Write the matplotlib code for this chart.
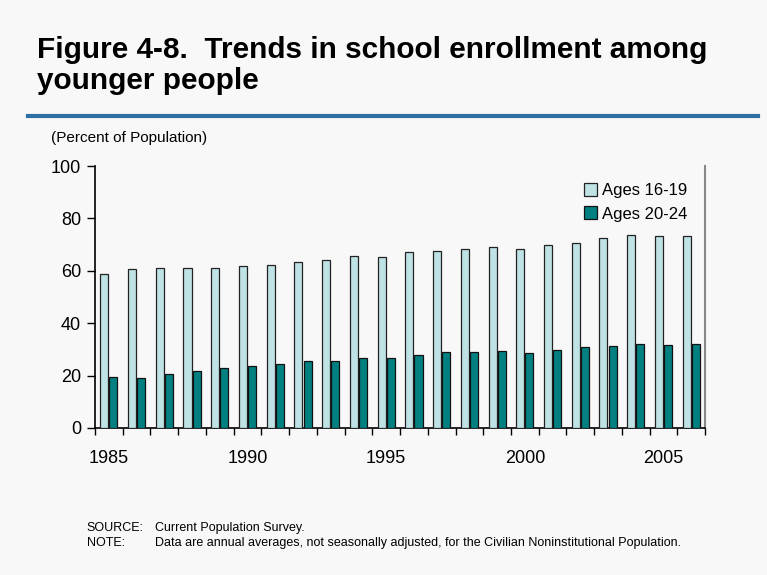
import matplotlib
matplotlib.use('Agg')
import matplotlib.pyplot as plt
import numpy as np

# data
years = list(range(1985, 2007))
ages_16_19 = [58.6, 60.5, 61.2, 60.9, 61.2, 61.8, 62.4, 63.3, 64.1, 65.8, 65.4, 67.0,
              67.6, 68.5, 68.9, 68.2, 69.8, 70.7, 72.4, 73.6, 73.1, 73.3]
ages_20_24 = [19.4, 19.1, 20.7, 21.6, 22.9, 23.7, 24.3, 25.7, 25.7, 26.9, 26.9, 28.0,
              29.0, 29.0, 29.4, 28.6, 29.6, 30.8, 31.4, 32.0, 31.8, 32.0]
tick_years = [1985, 1990, 1995, 2000, 2005]

plt.rcParams['font.family'] = ['Liberation Sans', 'DejaVu Sans']
bg = '#f8f8f8'

fig = plt.figure(figsize=(7.67, 5.75), dpi=100, facecolor=bg)
ax = fig.add_axes([0.1239, 0.2557, 0.7954, 0.4556], facecolor=bg)

x = np.arange(len(years))
w = 0.29
ax.bar(x - 0.165, ages_16_19, w, color='#bfe2e5', edgecolor='#222222', linewidth=0.9,
       label='Ages 16-19', zorder=3)
ax.bar(x + 0.165, ages_20_24, w, color='#008080', edgecolor='#111111', linewidth=0.9,
       label='Ages 20-24', zorder=3)

ax.set_xlim(-0.5, len(years) - 0.5)
ax.set_ylim(0, 100)
ax.set_yticks(range(0, 101, 20))
ax.set_xticks([years.index(y) for y in tick_years])
ax.set_xticklabels([str(y) for y in tick_years])
ax.set_xticks(np.arange(-0.5, len(years), 1), minor=True)
ax.tick_params(axis='x', which='major', length=0, labelsize=13, pad=16)
ax.tick_params(axis='x', which='minor', length=5, width=1, direction='out')
ax.tick_params(axis='y', length=6, width=1, direction='out', labelsize=13, pad=4)

ax.spines['top'].set_visible(False)
ax.spines['right'].set_color('#888888')
ax.spines['right'].set_linewidth(1.5)
ax.spines['left'].set_linewidth(1.2)
ax.spines['bottom'].set_linewidth(1.2)

leg = ax.legend(loc='upper right', bbox_to_anchor=(0.99, 0.98), frameon=False,
                fontsize=12, handlelength=0.8, handleheight=0.8, handletextpad=0.3,
                labelspacing=0.5, borderaxespad=0.3)

# title, rule and notes
fig.text(0.048, 0.937, 'Figure 4-8.  Trends in school enrollment among\nyounger people',
         fontsize=21.4, fontweight='bold', va='top', ha='left', linespacing=1.12)
fig.add_artist(plt.Line2D([0.0365, 0.988], [0.798, 0.798], color='#2e6fa5', linewidth=3))
fig.text(0.066, 0.76, '(Percent of Population)', fontsize=11, va='center', ha='left')

note_font = ['Liberation Sans Narrow', 'Liberation Sans', 'DejaVu Sans']
fig.text(0.113, 0.081, 'SOURCE:', fontsize=9, family=note_font, va='center')
fig.text(0.202, 0.081, 'Current Population Survey.', fontsize=9, family=note_font, va='center')
fig.text(0.113, 0.055, 'NOTE:', fontsize=9, family=note_font, va='center')
fig.text(0.202, 0.055, 'Data are annual averages, not seasonally adjusted, for the Civilian '
         'Noninstitutional Population.', fontsize=9, family=note_font, va='center')

plt.savefig('out.png', dpi=100, facecolor=bg)
